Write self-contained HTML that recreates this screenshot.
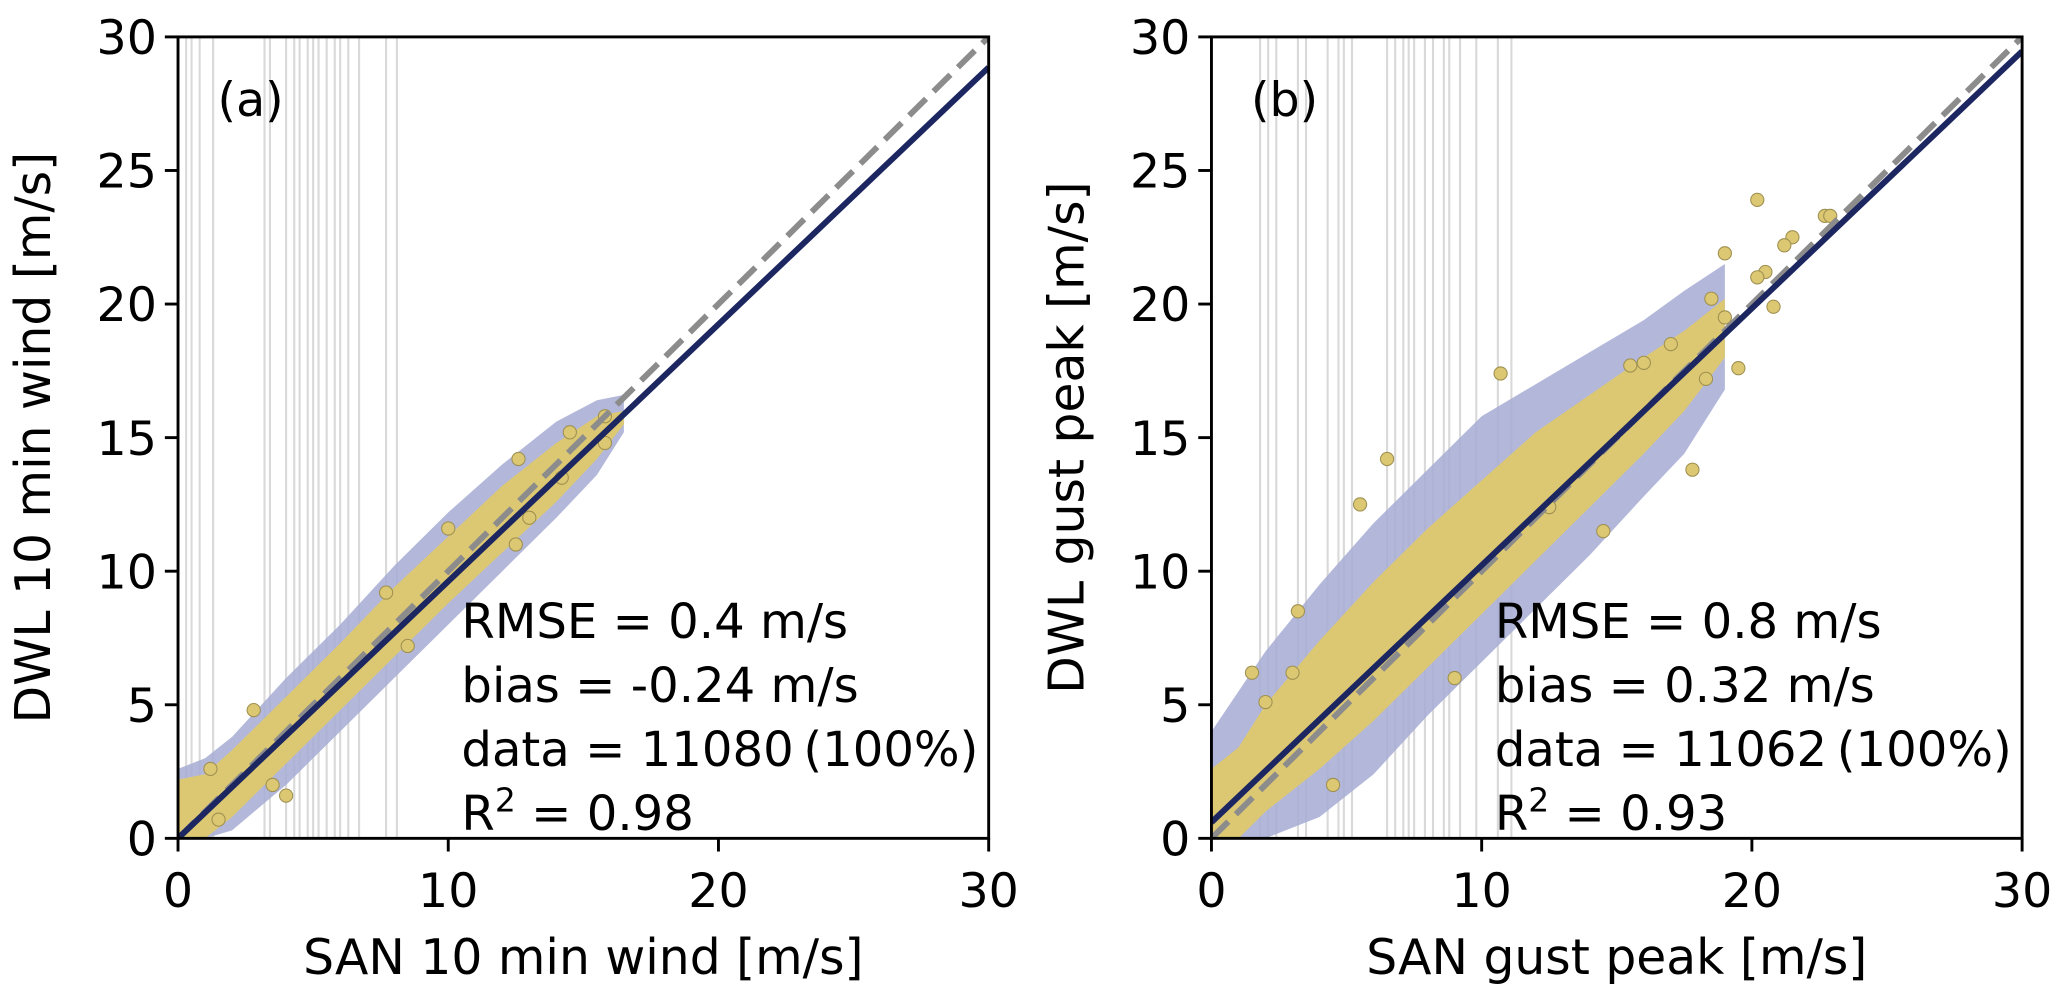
<!DOCTYPE html>
<html><head><meta charset="utf-8"><style>
body{margin:0;background:#fff}
svg text{font-family:"DejaVu Sans","Liberation Sans",sans-serif;fill:#000}
</style></head><body>
<svg id="c" width="2067" height="1001" viewBox="0 0 1568 759.4" xmlns="http://www.w3.org/2000/svg"></svg>
<script>
const ticks=[0,5,10,15,20,25,30];
const xticks=[0,10,20,30];
// panel a data
const aBandX=[0,1,2,4,6,8,10,12,14,15.5,16.5];
const aYelLo=[0,0,0.8,2.8,4.8,6.8,8.8,10.7,12.6,14.2,15.5];
const aYelHi=[2.2,2.4,3.3,5.3,7.3,9.4,11.3,13.2,14.8,15.8,16.0];
const aBluLo=[0,0,0.3,2.0,4.0,6.0,8.0,10.0,12.0,13.6,15.2];
const aBluHi=[2.6,3.0,3.8,6.0,8.0,10.2,12.2,14.0,15.6,16.4,16.6];
const aPtsX=[2.8,1.2,7.7,12.6,14.5,15.8,12.5,13,15.8,4,3.5,1.5,8.5,10,14.2];
const aPtsY=[4.8,2.6,9.2,14.2,15.2,15.8,11.0,12,14.8,1.6,2.0,0.7,7.2,11.6,13.5];
const aGray=[0.3,0.5,0.8,1.3,3.2,3.4,4.0,4.3,4.5,4.8,5.0,5.2,5.5,5.8,6.0,6.3,6.7,7.7,8.1];
const aSlope=0.962, aInt=0.0;
// panel b data
const bBandX=[0,1,2,4,6,8,10,12,14,16,17.5,19];
const bYelLo=[0,0,1.0,2.6,4.4,6.4,8.4,10.4,12.4,14.4,16.0,18.0];
const bYelHi=[2.6,3.4,5.0,7.4,9.6,11.6,13.4,15.2,16.6,18.0,19.0,20.2];
const bBluLo=[0,0,0,0.8,2.4,4.6,6.6,8.6,10.6,12.8,14.4,16.8];
const bBluHi=[4.0,5.5,7.0,9.5,11.8,13.8,15.8,17.0,18.2,19.4,20.5,21.5];
const bPtsX=[20.2,19,22.7,22.9,21.5,21.2,20.5,20.2,19.5,20.8,17.8,18.3,19,18.5,10.7,6.5,5.5,3.2,3,1.5,2,17,15.5,16,14.5,12.5,9,4.5];
const bPtsY=[23.9,21.9,23.3,23.3,22.5,22.2,21.2,21,17.6,19.9,13.8,17.2,19.5,20.2,17.4,14.2,12.5,8.5,6.2,6.2,5.1,18.5,17.7,17.8,11.5,12.4,6.0,2.0];
const bGray=[1.8,2.1,2.4,3.2,3.5,4.3,4.7,4.9,5.2,6.5,6.8,7.1,7.3,7.5,7.9,8.2,8.6,8.8,9.2,9.8,10.6,11.1];
const bSlope=0.962, bInt=0.6;

const NS="http://www.w3.org/2000/svg";
const svg=document.getElementById('c');
function mk(t,a,p){const e=document.createElementNS(NS,t);for(const k in a)e.setAttribute(k,a[k]);(p||svg).appendChild(e);return e;}

function panel(o){
  const L=o.left,R=o.left+615,T=28,B=636;
  const sx=v=>L+v/30*(R-L), sy=v=>B-v/30*(B-T);
  const g=mk('g',{});
  
  
  const cid='clip'+o.name;
  const cp=mk('clipPath',{id:cid},g);mk('rect',{x:L,y:T,width:R-L,height:B-T},cp);
  const inner=mk('g',{'clip-path':'url(#'+cid+')'},g);
  o.gray.forEach(v=>{const l=mk('line',{x1:sx(v),x2:sx(v),y1:T,y2:B,stroke:'#d9d9d9','stroke-width':1.6},inner);
    
    });
  function band(lo,hi,fill,op,nm){
    let pts=o.bx.map((x,i)=>sx(x)+','+sy(hi[i]));
    for(let i=o.bx.length-1;i>=0;i--)pts.push(sx(o.bx[i])+','+sy(lo[i]));
    const p=mk('polygon',{points:pts.join(' '),fill:fill,'fill-opacity':op},inner);
    
    
  }
  band(o.blo,o.bhi,'#a6acd4',0.85,'error-band');
  band(o.ylo,o.yhi,'#dcc772',1,'scatter-band');
  o.px.forEach((x,i)=>{const c=mk('circle',{cx:sx(x),cy:sy(o.py[i]),r:5,fill:'#dcc772',stroke:'#9e9050','stroke-width':0.8},inner);
    
    });
  const d=mk('line',{x1:sx(0),y1:sy(0),x2:sx(30),y2:sy(30),stroke:'#8c8c8c','stroke-width':4.5,'stroke-dasharray':'18,8'},inner);
  
  
  const r=mk('line',{x1:sx(0),y1:sy(o.ic),x2:sx(30),y2:sy(o.ic+30*o.sl),stroke:'#1c2660','stroke-width':4.5},inner);
  
  
  const f=mk('rect',{x:L,y:T,width:R-L,height:B-T,fill:'none',stroke:'#000','stroke-width':2.2},g);
  
  
  ticks.forEach(v=>{mk('line',{x1:L-10,x2:L,y1:sy(v),y2:sy(v),stroke:'#000','stroke-width':2.2},g);
    const t=mk('text',{x:L-16,y:sy(v)+13,'text-anchor':'end','font-size':36},g);t.textContent=v;
    
    });
  xticks.forEach(v=>{mk('line',{x1:sx(v),x2:sx(v),y1:B,y2:B+10,stroke:'#000','stroke-width':2.2},g);
    const t=mk('text',{x:sx(v),y:B+52,'text-anchor':'middle','font-size':36},g);t.textContent=v;
    
    });
  const xl=mk('text',{x:(L+R)/2,y:739,'text-anchor':'middle','font-size':37},g);xl.textContent=o.xlab;
  
  
  const yx=L-97,yy=(T+B)/2;
  const yl=mk('text',{x:yx,y:yy,'text-anchor':'middle','font-size':37,transform:'rotate(-90 '+yx+' '+yy+')'},g);yl.textContent=o.ylab;
  
  
  const pl=mk('text',{x:L+30,y:88,'font-size':36},g);pl.textContent=o.tag;
  
  
  o.stats.forEach((s,i)=>{const t=mk('text',{x:L+215,y:484+i*48.5,'font-size':36.5},g);
    if(s==='R2'){t.innerHTML='R<tspan dy="-14" font-size="25">2</tspan><tspan dy="14"> = '+o.r2+'</tspan>';}
    else t.textContent=s;
    
    });
}
panel({name:'panel-a',left:135,bx:aBandX,ylo:aYelLo,yhi:aYelHi,blo:aBluLo,bhi:aBluHi,px:aPtsX,py:aPtsY,gray:aGray,sl:aSlope,ic:aInt,
  xlab:'SAN 10 min wind [m/s]',ylab:'DWL 10 min wind [m/s]',tag:'(a)',stats:['RMSE = 0.4 m/s','bias = -0.24 m/s','data = 11080\u2009(100%)','R2'],r2:'0.98'});
panel({name:'panel-b',left:919,bx:bBandX,ylo:bYelLo,yhi:bYelHi,blo:bBluLo,bhi:bBluHi,px:bPtsX,py:bPtsY,gray:bGray,sl:bSlope,ic:bInt,
  xlab:'SAN gust peak [m/s]',ylab:'DWL gust peak [m/s]',tag:'(b)',stats:['RMSE = 0.8 m/s','bias = 0.32 m/s','data = 11062\u2009(100%)','R2'],r2:'0.93'});
</script>
</body></html>
